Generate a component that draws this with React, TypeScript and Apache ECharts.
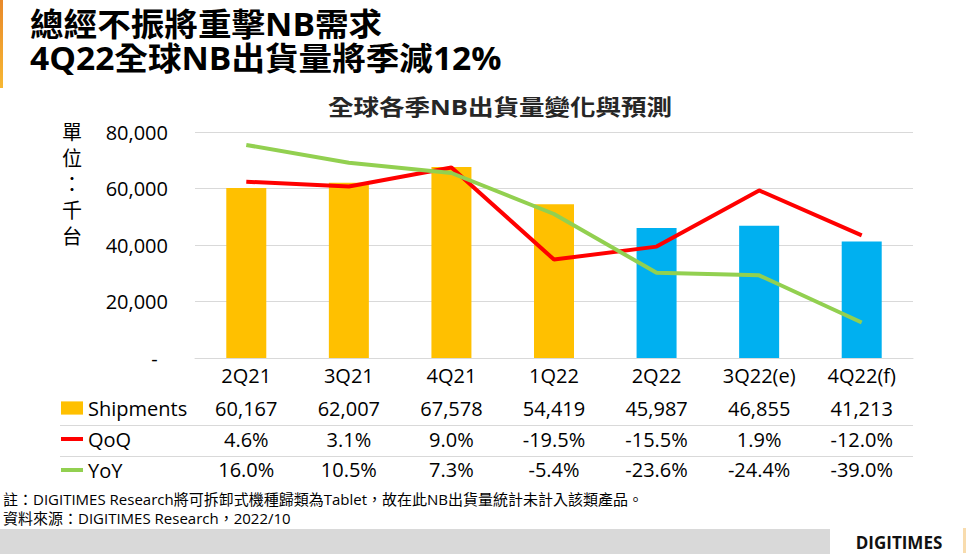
import React, { useEffect, useRef } from "react";
import * as echarts from "echarts";

const categories = ["2Q21", "3Q21", "4Q21", "1Q22", "2Q22", "3Q22(e)", "4Q22(f)"];
const shipments = [60167, 62007, 67578, 54419, 45987, 46855, 41213];
const qoq = [4.6, 3.1, 9.0, -19.5, -15.5, 1.9, -12.0];
const yoy = [16.0, 10.5, 7.3, -5.4, -23.6, -24.4, -39.0];
const seriesNames = ["Shipments", "QoQ", "YoY"];
const titleLines = ["總經不振將重擊NB需求", "4Q22全球NB出貨量將季減12%"];
const chartTitle = "全球各季NB出貨量變化與預測";
const unitLabel = "單位：千台";
const notes = [
  "註：DIGITIMES Research將可拆卸式機種歸類為Tablet，故在此NB出貨量統計未計入該類產品。",
  "資料來源：DIGITIMES Research，2022/10",
];
const brand = "DIGITIMES";
const forecastColorStart = 4;

const FONT = "'Open Sans', 'Noto Sans CJK TC', sans-serif";
const ORANGE = "#FFC000";
const BLUE = "#00B0F0";
const RED = "#FF0000";
const GREEN = "#92D050";
const GRID_GRAY = "#d9d9d9";

const fmtNum = (v: number) => v.toLocaleString("en-US");
const fmtPct = (v: number) => v.toFixed(1) + "%";

export default function App() {
  const ref = useRef<HTMLDivElement>(null);

  useEffect(() => {
    if (!ref.current) return;
    const chart = echarts.init(ref.current, null, { renderer: "svg" });

    const tableAxis = (data: string[], offset: number) => ({
      type: "category",
      gridIndex: 0,
      position: "bottom",
      offset,
      data,
      axisLine: { show: false },
      axisTick: { show: false },
      splitLine: { show: false },
      axisLabel: {
        interval: 0,
        fontSize: 20,
        fontFamily: FONT,
        color: "#000",
        margin: 7,
      },
    });

    const option: any = {
      animation: false,
      backgroundColor: "#fff",
      grid: { left: 195, right: 53, top: 132, height: 226 },
      legend: {
        orient: "vertical",
        left: 61,
        top: 398,
        padding: 0,
        itemWidth: 22,
        itemHeight: 20,
        itemGap: 11,
        selectedMode: false,
        textStyle: { fontSize: 20, fontFamily: FONT, color: "#000", lineHeight: 20 },
        data: [
          { name: seriesNames[0], icon: "path://M0,0H20V12H0Z" },
          { name: seriesNames[1], icon: "path://M0,0H22V4H0Z" },
          { name: seriesNames[2], icon: "path://M0,0H22V4H0Z" },
        ],
      },
      xAxis: [
        {
          type: "category",
          data: categories,
          position: "bottom",
          axisLine: { show: true, lineStyle: { color: GRID_GRAY, width: 1 } },
          axisTick: { show: false },
          axisLabel: {
            interval: 0,
            fontSize: 20,
            fontFamily: FONT,
            color: "#000",
            margin: 7,
          },
        },
        tableAxis(shipments.map(fmtNum), 33),
        tableAxis(qoq.map(fmtPct), 64),
        tableAxis(yoy.map(fmtPct), 94),
      ],
      yAxis: [
        {
          type: "value",
          min: 0,
          max: 80000,
          interval: 20000,
          axisLine: { show: false },
          axisTick: { show: false },
          splitLine: { lineStyle: { color: GRID_GRAY, width: 1 } },
          axisLabel: {
            fontSize: 20,
            fontFamily: FONT,
            color: "#000",
            margin: 27,
            formatter: (v: number) => (v === 0 ? "-  " : fmtNum(v)),
          },
        },
        {
          type: "value",
          min: -50,
          max: 20,
          interval: 10,
          show: false,
          splitLine: { show: false },
        },
      ],
      series: [
        {
          name: seriesNames[0],
          type: "bar",
          xAxisIndex: 0,
          yAxisIndex: 0,
          barWidth: 40,
          itemStyle: { color: ORANGE },
          data: shipments.map((v, i) => ({
            value: v,
            itemStyle: { color: i >= forecastColorStart ? BLUE : ORANGE },
          })),
        },
        {
          name: seriesNames[1],
          type: "line",
          xAxisIndex: 0,
          yAxisIndex: 1,
          showSymbol: false,
          symbol: "none",
          itemStyle: { color: RED },
          lineStyle: { color: RED, width: 4 },
          data: qoq,
        },
        {
          name: seriesNames[2],
          type: "line",
          xAxisIndex: 0,
          yAxisIndex: 1,
          showSymbol: false,
          symbol: "none",
          itemStyle: { color: GREEN },
          lineStyle: { color: GREEN, width: 4 },
          data: yoy,
        },
      ],
      graphic: [
        {
          type: "rect",
          silent: true,
          shape: { x: 0, y: 0, width: 3, height: 88 },
          style: {
            fill: new echarts.graphic.LinearGradient(0, 0, 0, 1, [
              { offset: 0, color: "#e8892a" },
              { offset: 1, color: "#f7b733" },
            ]),
          },
        },
        {
          type: "text",
          silent: true,
          x: 30,
          y: 24,
          scaleX: 1.05,
          style: {
            text: titleLines[0],
            fontSize: 32,
            fontWeight: "bold",
            fontFamily: FONT,
            fill: "#000",
            verticalAlign: "middle",
            align: "left",
          },
        },
        {
          type: "text",
          silent: true,
          x: 30,
          y: 58,
          scaleX: 1.05,
          style: {
            text: titleLines[1],
            fontSize: 32,
            fontWeight: "bold",
            fontFamily: FONT,
            fill: "#000",
            verticalAlign: "middle",
            align: "left",
          },
        },
        {
          type: "text",
          silent: true,
          x: 500,
          y: 107,
          scaleX: 1.16,
          style: {
            text: chartTitle,
            fontSize: 22,
            fontWeight: "bold",
            fontFamily: FONT,
            fill: "#262626",
            verticalAlign: "middle",
            align: "center",
          },
        },
        {
          type: "text",
          silent: true,
          x: 72,
          y: 119,
          style: {
            text: unitLabel.split("").join("\n"),
            fontSize: 20,
            lineHeight: 26,
            fontFamily: FONT,
            fill: "#000",
            verticalAlign: "top",
            align: "center",
          },
        },
        {
          type: "line",
          silent: true,
          shape: { x1: 60, y1: 425.5, x2: 913, y2: 425.5 },
          style: { stroke: GRID_GRAY, lineWidth: 1 },
        },
        {
          type: "line",
          silent: true,
          shape: { x1: 60, y1: 456.5, x2: 913, y2: 456.5 },
          style: { stroke: GRID_GRAY, lineWidth: 1 },
        },
        {
          type: "text",
          silent: true,
          x: 3,
          y: 499,
          style: {
            text: notes[0],
            fontSize: 15,
            lineHeight: 18,
            fontFamily: FONT,
            fill: "#000",
            verticalAlign: "middle",
            align: "left",
          },
        },
        {
          type: "text",
          silent: true,
          x: 3,
          y: 518,
          style: {
            text: notes[1],
            fontSize: 15,
            lineHeight: 18,
            fontFamily: FONT,
            fill: "#000",
            verticalAlign: "middle",
            align: "left",
          },
        },
        {
          type: "rect",
          silent: true,
          shape: { x: 0, y: 529, width: 830, height: 25 },
          style: { fill: GRID_GRAY },
        },
        {
          type: "rect",
          silent: true,
          shape: { x: 963, y: 528, width: 3, height: 25 },
          style: { fill: "#f8dcae" },
        },
        {
          type: "text",
          silent: true,
          x: 899,
          y: 542,
          style: {
            text: brand,
            fontSize: 17,
            fontWeight: "bold",
            fontFamily: FONT,
            fill: "#111",
            verticalAlign: "middle",
            align: "center",
          },
        },
      ],
    };

    chart.setOption(option);
    return () => chart.dispose();
  }, []);

  return (
    <div
      ref={ref}
      style={{ position: "fixed", left: 0, top: 0, width: 966, height: 559, background: "#fff" }}
    />
  );
}
